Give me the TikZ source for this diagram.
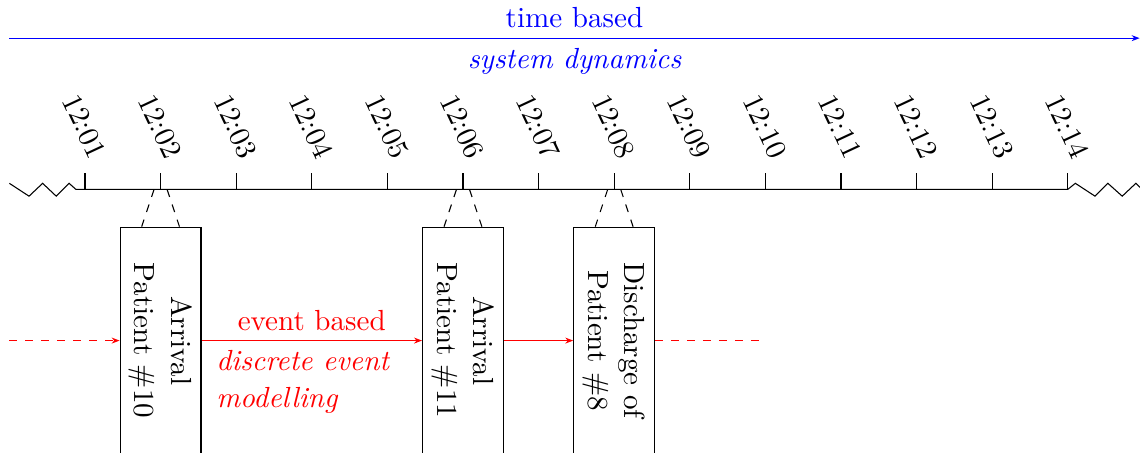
\documentclass[tikz,border=0pt,11pt]{standalone}
\usepackage{tikz}
\usetikzlibrary{positioning,calc,arrows.meta}
\tikzset{
    evbox/.style={draw,rotate=-90,align=center,minimum width=3cm,minimum height=1.07cm,inner sep=2pt},
    tlabel/.style={rotate=-65,anchor=east},
    evarr/.style={-{Stealth[length=3pt]},red},
    tarr/.style={-{Stealth[length=3pt]},blue},
}

\begin{document}
\begin{tikzpicture}
\useasboundingbox (-0.124,0.02) rectangle (14.955,6.005);

% time axis on top
\coordinate (ts) at (0,5.5);
\coordinate (te) at (14.95,5.5);
\draw[tarr] (ts) -- node[above,blue] {time based} node[below,blue,font=\itshape] {system dynamics} (te);

% clock ticks
\foreach \i in {1,...,14}{
  \coordinate (t\i) at (\i,3.5);
  \draw (t\i) -- ++(0,0.22);
  \node[tlabel] (l\i) at ($(t\i)+(0.235,0.31)$) {12:\ifnum\i<10 0\fi\i};
}
\draw (0,3.58) -- (0.26,3.41) -- (0.44,3.58) -- (0.62,3.41) -- (0.79,3.58) -- (0.88,3.5) -- (t1)
  -- (t14) -- (14.1,3.58) -- (14.36,3.41) -- (14.53,3.58) -- (14.72,3.41) -- (14.9,3.58) -- (15.08,3.41);

% events
\node[evbox] (arr10) at (2,1.5) {Arrival\\Patient \#10};
\node[evbox] (arr11) at (6,1.5) {Arrival\\Patient \#11};
\node[evbox] (dis8)  at (8,1.5) {Discharge of\\Patient \#8};

\foreach \b/\i in {arr10/2,arr11/6,dis8/8}{
  \draw[dashed] ($(t\i)+(-0.086,0)$) -- ($(\b.west)+(-0.25,0)$);
  \draw[dashed] ($(t\i)+(0.086,0)$) -- ($(\b.west)+(0.25,0)$);
}

\coordinate (es) at (0,1.5);
\coordinate (ee) at (10,1.5);
\draw[evarr,dashed] (es) -- (arr10);
\draw[evarr] (arr10) -- node[above] {event based}
  node[below,xshift=-0.12cm,align=left,font=\itshape] {discrete event\\modelling} (arr11);
\draw[evarr] (arr11) -- (dis8);
\draw[red,dashed] (dis8) -- (ee);
\end{tikzpicture}
\end{document}
